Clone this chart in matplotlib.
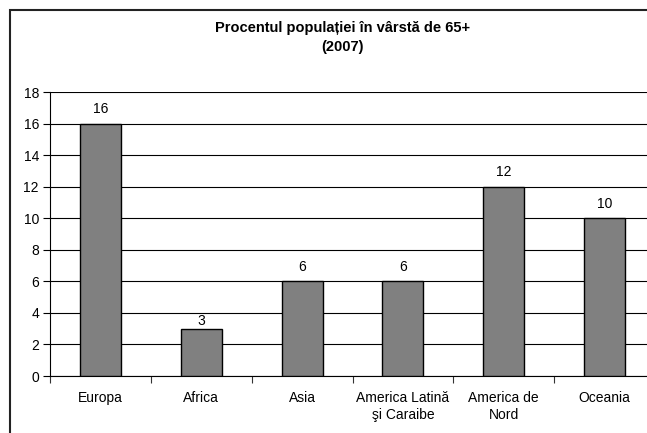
import numpy as np
import matplotlib.pyplot as plt
from matplotlib.patches import Rectangle

plt.rcParams['font.family'] = ['Liberation Sans', 'DejaVu Sans']

# Data
regions = ['Europa', 'Africa', 'Asia', 'America Latină\nşi Caraibe', 'America de\nNord', 'Oceania']
values = [16, 3, 6, 6, 12, 10]
y_ticks = [0, 2, 4, 6, 8, 10, 12, 14, 16, 18]

W, H = 647, 433
fig = plt.figure(figsize=(W / 100, H / 100), dpi=100)

# Outer chart border (runs off the right and bottom of the picture)
fig.patches.append(Rectangle((10 / W, -0.2), 1.2, 1.2 - 10 / H, transform=fig.transFigure,
                             fill=False, edgecolor='#222222', linewidth=1.5, zorder=0))

# page number fragment in the corner
fig.text(643 / W, 1 + 4 / H, '8', fontsize=9, ha='center', va='center', color='#333333')

ax = fig.add_axes([50 / W, 57 / H, 605 / W, 284 / H])
x = np.arange(len(regions))
ax.bar(x, values, width=0.405, color='#808080', edgecolor='black', linewidth=1, zorder=3)

# value labels; the small Africa bar has its label closer to the bar
for xi, v in zip(x, values):
    off = 5.5 if v < 4 else 10.5
    ax.annotate(str(v), (xi, v), xytext=(0, off), textcoords='offset points',
                ha='center', va='center', fontsize=10)

ax.set_xlim(-0.5, len(regions) - 0.5)
ax.set_ylim(0, 18)
ax.set_yticks(y_ticks)
ax.yaxis.grid(True, color='black', linewidth=0.8)
ax.set_axisbelow(True)

# category boundary ticks with labels centred between them
ax.set_xticks(np.arange(len(regions) + 1) - 0.5)
ax.set_xticklabels([])
ax.set_xticks(x, minor=True)
ax.set_xticklabels(regions, minor=True, fontsize=10, va='top', linespacing=1.28)
ax.tick_params(axis='x', which='minor', length=0, pad=11)
ax.tick_params(axis='x', which='major', length=5, width=0.8, color='#333333')
ax.tick_params(axis='y', length=5, width=0.8, labelsize=10, pad=3)

for side in ['top', 'right']:
    ax.spines[side].set_visible(False)
ax.spines['left'].set_linewidth(0.8)
ax.spines['bottom'].set_linewidth(0.8)

fig.text(343 / W, 1 - 28 / H, 'Procentul populației în vârstă de 65+', fontsize=10.5,
         fontweight='bold', ha='center', va='center')
fig.text(343 / W, 1 - 47 / H, '(2007)', fontsize=10.5, fontweight='bold', ha='center', va='center')

plt.savefig('out.png', dpi=100)
